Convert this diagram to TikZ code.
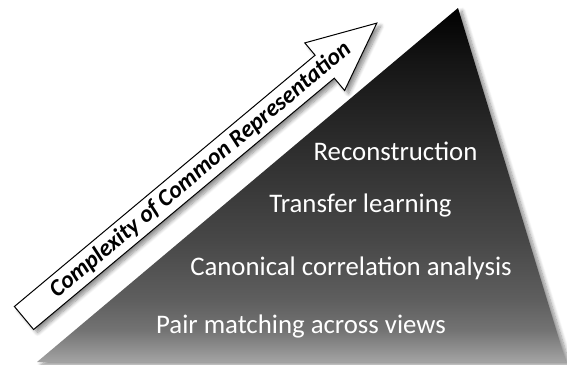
\documentclass[tikz,border=0pt]{standalone}
\usepackage{fontspec}
\setmainfont{Carlito}
\usetikzlibrary{shadows.blur}
\definecolor{pyrA}{gray}{0.64}
\definecolor{pyrB}{gray}{0.45}
\definecolor{pyrC}{gray}{0.37}
\definecolor{pyrD}{gray}{0.28}
\definecolor{pyrE}{gray}{0.18}
\definecolor{pyrF}{gray}{0.08}
\pgfdeclareverticalshading{pyramid}{100bp}{color(0bp)=(pyrA); color(25bp)=(pyrA); color(29.5bp)=(pyrB); color(33.8bp)=(pyrC); color(42.2bp)=(pyrD); color(54.9bp)=(pyrE); color(67.7bp)=(pyrF); color(75bp)=(black); color(100bp)=(black)}
\tikzset{
	softshadow/.style={blur shadow={shadow xshift=2pt,shadow yshift=-1.5pt,shadow blur steps=8,shadow opacity=45}},
	level/.style={anchor=base,text=white,font=\fontsize{13.4}{16}\selectfont},
}
\begin{document}
\begin{tikzpicture}[x=0.5pt,y=-0.5pt]
		\useasboundingbox (0,0) rectangle (567,364);
		\coordinate (P) at (458,8);
		\coordinate (Q) at (37,362);
		\coordinate (R) at (566,362);
		\shade[shading=pyramid,softshadow] (P) -- (Q) -- (R) -- cycle;
		% arrow
		\coordinate (T1) at (14.4,306.5);
		\coordinate (T2) at (33.6,329.5);
		\coordinate (N1) at (315.1,55.2);
		\coordinate (N2) at (334.3,78.2);
		\coordinate (H1) at (304.8,42.9);
		\coordinate (H2) at (344.6,90.5);
		\coordinate (K) at (376.8,23.1);
		\draw[fill=white,line width=0.5pt,softshadow] (T2) -- (T1) -- (N1) -- (H1) -- (K) -- (H2) -- (N2) -- cycle;
		\node[rotate=39.9,font=\bfseries\itshape\fontsize{11.9}{14}\selectfont] (cplx) at (200.5,170) {Complexity of Common Representation};
		\node[level] (recon) at (395.5,160) {Reconstruction};
		\node[level] (transfer) at (360.5,212) {Transfer learning};
		\node[level] (cca) at (351,275) {Canonical correlation analysis};
		\node[level] (pair) at (301,333) {Pair matching across views};
	\end{tikzpicture}
\end{document}
